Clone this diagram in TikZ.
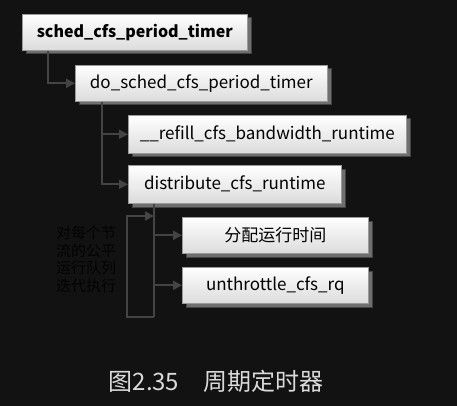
\documentclass[tikz,border=0pt]{standalone}
\usepackage{fontspec}
\setmainfont{Noto Sans CJK SC}
\newfontfamily\cjk{Noto Sans CJK SC}
\usetikzlibrary{arrows.meta,shadows}
\definecolor{bg}{HTML}{121212}
\definecolor{lnc}{HTML}{444444}
\definecolor{shd}{HTML}{6E6E6E}
\definecolor{bdr}{HTML}{9A9A9A}
\definecolor{cap}{HTML}{DADADA}
\definecolor{lbltxt}{HTML}{030303}
\tikzset{
  box/.style={rectangle, draw=bdr, line width=0.6pt, top color=white, bottom color=white!86!black,
    anchor=north west, inner sep=0pt, font=\fontsize{17}{19}\selectfont, text=black,
    general shadow={fill=shd, draw=shd!60!black, shadow xshift=3.5pt, shadow yshift=-3.5pt}},
  conn/.style={draw=lnc, line width=2pt, -{Triangle[length=9pt,width=9pt]}},
  plain/.style={draw=lnc, line width=2pt},
}
\begin{document}
\begin{tikzpicture}[x=1pt,y=-1pt]
\fill[bg] (0,0) rectangle (457,406);
\useasboundingbox (0,0) rectangle (457,406);
\node[text=lbltxt, align=left, anchor=north west, inner sep=0pt, font=\fontsize{15}{17.5}\selectfont\color{lbltxt}] (lbl) at (56,226) {对每个节\\流的公平\\运行队列\\迭代执行};
\node[box, minimum width=225pt, minimum height=36pt, font=\fontsize{16}{18}\selectfont\bfseries] (b1) at (22,14) {sched\_cfs\_period\_timer};
\node[box, minimum width=252pt, minimum height=36pt] (b2) at (75,65) {do\_sched\_cfs\_period\_timer};
\node[box, minimum width=278pt, minimum height=38pt] (b3) at (128,115) {\_\_refill\_cfs\_bandwidth\_runtime};
\node[box, minimum width=213pt, minimum height=38pt] (b4) at (128,165) {distribute\_cfs\_runtime};
\node[box, minimum width=186pt, minimum height=36pt] (b5) at (182,217) {分配运行时间};
\node[box, minimum width=186pt, minimum height=36pt] (b6) at (182,267) {unthrottle\_cfs\_rq};
\draw[conn] ([xshift=26pt]b1.south west) |- (b2.west);
\draw[conn] ([xshift=27pt]b2.south west) |- (b3.west);
\draw[conn] ([xshift=27pt]b2.south west) |- (b4.west);
\coordinate (lb) at (154,317);
\coordinate (lt) at (154,216);
\draw[plain] ([xshift=26pt]b4.south west) -- (lb);
\draw[conn] ([xshift=26pt]b4.south west) |- (b5.west);
\draw[conn] ([xshift=26pt]b4.south west) |- (b6.west);
\draw[conn] (lb) -- ++(-27,0) |- (lt);
\node[text=cap, anchor=center, inner sep=0pt, font=\fontsize{24}{27}\selectfont] (capt) at (216,381) {图2.35\quad 周期定时器};
\end{tikzpicture}
\end{document}
